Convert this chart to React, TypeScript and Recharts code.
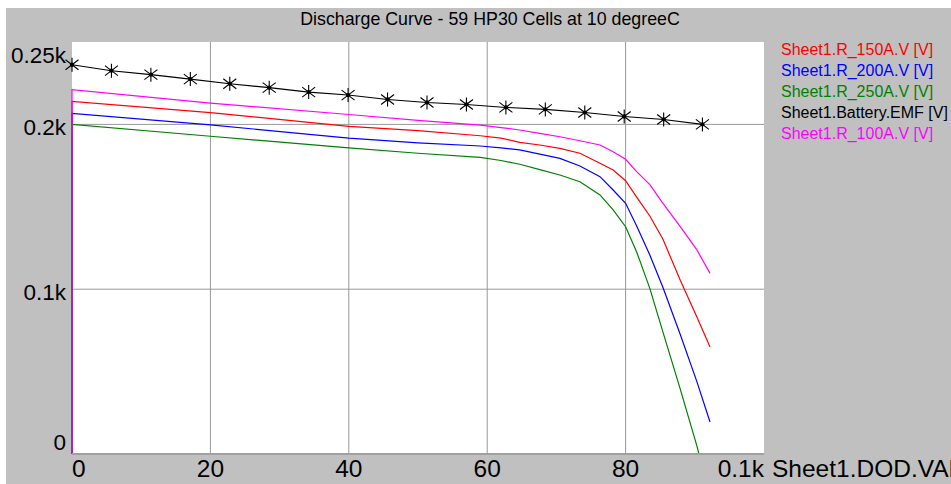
import React from 'react';
import { LineChart, Line, XAxis, YAxis, CartesianGrid, Legend } from 'recharts';

const title = 'Discharge Curve - 59 HP30 Cells at 10 degreeC';
const xAxisTitle = 'Sheet1.DOD.VAL';

// DOD points (%) shared by the 100A / 150A / 200A curves
const dod = [0, 0, 20, 40, 50, 59, 62, 64.7, 67.6, 70.5, 73.4, 76.3, 78.2, 80, 81.6, 83.5, 85.4, 87.9, 90.3, 92.2];
const r150 = [0, 213.9, 207.2, 198.8, 196.2, 193.1, 191.7, 189.1, 187.5, 185.5, 182.5, 176.4, 172.3, 165.8, 155.9, 144.4, 130.3, 105.4, 83.1, 64.9];
const r200 = [0, 206.6, 199.7, 191.7, 188.8, 186.9, 185.7, 184.5, 182, 179.4, 174.8, 168.3, 160.2, 152.1, 138.3, 120.8, 101, 72.5, 43.9, 19.4];
const r100 = [0, 221.1, 212.9, 206.0, 202.4, 199.6, 198.1, 196.6, 194.6, 192.5, 190.1, 187.5, 183.4, 178.8, 171.3, 163.5, 152.1, 138, 123.9, 109.6];

// 250A curve (reaches zero before the end)
const dod250 = [0, 0, 20, 40, 50, 59, 62, 64.7, 67.6, 70.5, 73.4, 76.3, 78.2, 80, 81.6, 83.5, 85.4, 87.9, 90.3, 90.6, 92.2];
const r250 = [0, 200, 192.8, 185.7, 182.5, 180, 178.1, 175.8, 172.6, 169.3, 165.2, 157.2, 148.1, 137.9, 122.6, 100.5, 74, 39.4, 4.9, 0, 0];

// Battery EMF
const emfDod = [0, 5.7, 11.4, 17.1, 22.8, 28.5, 34.2, 39.9, 45.6, 51.3, 57, 62.7, 68.4, 74.1, 79.8, 85.5, 91.1];
const emfV = [236.2, 232.6, 230.2, 227.5, 224.7, 222.3, 219.6, 217.8, 215.1, 213.3, 212.1, 210.3, 209.1, 207.2, 204.8, 203.0, 200.0];

const yTicks = [0, 100, 200, 250];
const yTickLabels = ['0', '0.1k', '0.2k', '0.25k'];
const xTicks = [0, 20, 40, 60, 80, 100];
const xTickLabels = ['0', '20', '40', '60', '80', '0.1k'];

const seriesNames = ['Sheet1.R_150A.V [V]', 'Sheet1.R_200A.V [V]', 'Sheet1.R_250A.V [V]', 'Sheet1.Battery.EMF [V]', 'Sheet1.R_100A.V [V]'];
const seriesColors = ['#ff0000', '#0000ff', '#008000', '#000000', '#ff00ff'];

const FONT = "'Liberation Sans', Arial, sans-serif";

const toRows = (xs: number[], ys: number[]) => xs.map((x, i) => ({ x, y: ys[i] }));
const d150 = toRows(dod, r150);
const d200 = toRows(dod, r200);
const d250 = toRows(dod250, r250);
const d100 = toRows(dod, r100);
const dEmf = toRows(emfDod, emfV);

const Star = (props: any) => {
  const { cx, cy } = props;
  if (cx == null || cy == null) return null;
  return (
    <g stroke="#000" strokeWidth={1.1}>
      <line x1={cx} y1={cy - 7} x2={cx} y2={cy + 7} />
      <line x1={cx - 6.5} y1={cy - 5} x2={cx + 6.5} y2={cy + 5} />
      <line x1={cx - 6.5} y1={cy + 5} x2={cx + 6.5} y2={cy - 5} />
      <circle cx={cx} cy={cy} r={1.6} fill="#000" />
    </g>
  );
};

const YTick = (props: any) => {
  const { y, payload } = props;
  const v = payload.value;
  const idx = yTicks.indexOf(v);
  let dy = 3;
  if (v === 250) dy = 13;
  if (v === 0) dy = -12;
  return (
    <text x={60} y={y + dy} textAnchor="end" dominantBaseline="central" fontSize={22.5} fill="#000" fontFamily={FONT}>
      {yTickLabels[idx]}
    </text>
  );
};

const XTick = (props: any) => {
  const { x, y, payload } = props;
  const v = payload.value;
  const idx = xTicks.indexOf(v);
  let anchor: any = 'middle';
  if (v === 0) anchor = 'start';
  if (v === 100) anchor = 'end';
  return (
    <text x={x} y={y + 6} textAnchor={anchor} dominantBaseline="central" fontSize={24.5} fill="#000" fontFamily={FONT}>
      {xTickLabels[idx]}
    </text>
  );
};

const XTitle = (props: any) => {
  const vb = props.viewBox || {};
  return (
    <text x={vb.x + vb.width + 8} y={vb.y + 14} dominantBaseline="central" fontSize={24.5} fill="#000" fontFamily={FONT}>
      {xAxisTitle}
    </text>
  );
};

const LegendContent = () => (
  <div style={{ fontFamily: FONT, fontSize: 16, lineHeight: '21px', whiteSpace: 'nowrap' }}>
    {seriesNames.map((n, i) => (
      <div key={n} style={{ color: seriesColors[i] }}>{n}</div>
    ))}
  </div>
);

export default function App() {
  return (
    <div style={{ position: 'absolute', left: 6, top: 8, width: 945, height: 476, background: '#c0c0c0', overflow: 'hidden', fontFamily: FONT }}>
      <div style={{ position: 'absolute', left: 0, top: 0, width: 968, height: 22, lineHeight: '22px', textAlign: 'center', fontSize: 17.8, color: '#000' }}>
        {title}
      </div>
      <LineChart width={945} height={476} margin={{ top: 34, right: 187, left: 0, bottom: 0 }}>
        <CartesianGrid fill="#ffffff" stroke="#999999" horizontalValues={[100, 200]} verticalValues={[20, 40, 60, 80]} />
        <XAxis
          type="number"
          dataKey="x"
          domain={[0, 100]}
          ticks={xTicks}
          height={30}
          tickLine={false}
          axisLine={{ stroke: '#a0a0a0', strokeWidth: 2 }}
          tick={<XTick />}
          interval={0}
          allowDuplicatedCategory={false}
          label={<XTitle />}
        />
        <YAxis
          type="number"
          domain={[0, 250]}
          ticks={yTicks}
          width={66}
          tickLine={false}
          axisLine={false}
          tick={<YTick />}
          interval={0}
          allowDataOverflow
        />
        <Legend
          layout="vertical"
          align="center"
          verticalAlign="middle"
          content={<LegendContent />}
          wrapperStyle={{ position: 'absolute', left: 775, top: 31, width: 170, height: 110 }}
        />
        <Line data={d150} dataKey="y" name={seriesNames[0]} stroke={seriesColors[0]} strokeWidth={1.2} dot={false} isAnimationActive={false} />
        <Line data={d200} dataKey="y" name={seriesNames[1]} stroke={seriesColors[1]} strokeWidth={1.2} dot={false} isAnimationActive={false} />
        <Line data={d250} dataKey="y" name={seriesNames[2]} stroke={seriesColors[2]} strokeWidth={1.2} dot={false} isAnimationActive={false} />
        <Line data={dEmf} dataKey="y" name={seriesNames[3]} stroke={seriesColors[3]} strokeWidth={1.1} dot={<Star />} isAnimationActive={false} />
        <Line data={d100} dataKey="y" name={seriesNames[4]} stroke={seriesColors[4]} strokeWidth={1.2} dot={false} isAnimationActive={false} />
      </LineChart>
    </div>
  );
}
